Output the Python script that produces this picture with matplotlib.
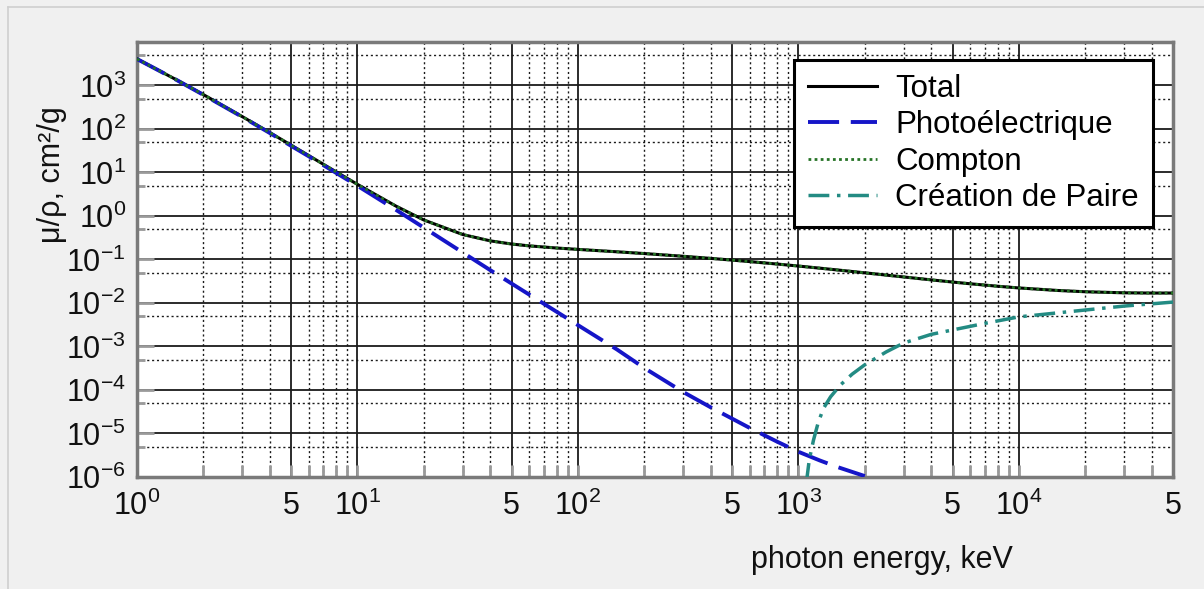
import numpy as np
import matplotlib
matplotlib.use("Agg")
import matplotlib.pyplot as plt
from matplotlib.ticker import FixedLocator, FixedFormatter, NullFormatter
from matplotlib.lines import Line2D

plt.rcParams['font.family'] = ['Liberation Sans', 'DejaVu Sans']
plt.rcParams['mathtext.fontset'] = 'custom'
plt.rcParams['mathtext.rm'] = 'Liberation Sans'
plt.rcParams['mathtext.it'] = 'Liberation Sans'
plt.rcParams['mathtext.default'] = 'regular'

# photon energy (keV) and mass attenuation (cm2/g)
energy_total = [1, 1.5, 2, 3, 4, 5, 6, 8, 10, 15, 20, 30, 40, 50, 60, 80, 100,
                150, 200, 300, 400, 500, 600, 800, 1000, 1250, 1500, 2000, 3000,
                4000, 5000, 6000, 8000, 10000, 15000, 20000, 30000, 40000, 50000]
total = [4078, 1376, 617.3, 192.9, 82.78, 42.58, 24.64, 10.37, 5.329, 1.673,
         0.8096, 0.3756, 0.2683, 0.2269, 0.2059, 0.1837, 0.1707, 0.1505, 0.137,
         0.1186, 0.1061, 0.09687, 0.08956, 0.07865, 0.07072, 0.06323, 0.05754,
         0.04942, 0.03969, 0.03403, 0.03031, 0.0277, 0.02429, 0.02219, 0.01941,
         0.01813, 0.01715, 0.01692, 0.01695]
compton = [4078, 1376, 617.3, 192.9, 82.78, 42.58, 24.64, 10.37, 5.329, 1.673,
           0.8096, 0.3756, 0.2683, 0.2269, 0.2059, 0.1837, 0.1707, 0.1505, 0.137,
           0.1186, 0.1061, 0.09687, 0.08956, 0.07865, 0.07072, 0.06323, 0.05754,
           0.04942, 0.03969, 0.03403, 0.03031, 0.0277, 0.02429, 0.02219, 0.01941,
           0.01813, 0.01715, 0.01692, 0.01695]

energy_photo = [1, 1.5, 2, 3, 4, 5, 6, 8, 10, 15, 20, 30, 40, 50, 60, 80, 100,
                150, 200, 300, 400, 500, 600, 800, 1000, 1250, 1500, 2000]
photo = [4070, 1370, 610, 190, 81, 41, 23.7, 9.8, 4.94, 1.37, 0.54, 0.145, 0.057,
         0.028, 0.0157, 0.0063, 0.0031, 8.6e-4, 3.2e-4, 9e-5, 4e-5, 2.2e-5,
         1.35e-5, 6.5e-6, 3.8e-6, 2.4e-6, 1.7e-6, 1.05e-6]

energy_pair = [1085, 1120, 1170, 1230, 1300, 1400, 1550, 1750, 2000, 2500, 3000,
               4000, 5000, 7000, 10000, 20000, 30000, 50000]
pair = [7e-7, 2.5e-6, 7e-6, 1.8e-5, 3.8e-5, 7e-5, 1.3e-4, 2.3e-4, 3.8e-4, 7.5e-4,
        1.2e-3, 1.9e-3, 2.4e-3, 3.4e-3, 4.8e-3, 6.9e-3, 8.5e-3, 1.05e-2]

x_major = [1, 5, 10, 50, 100, 500, 1000, 5000, 10000, 50000]
x_labels = ['$10^{0}$', '5', '$10^{1}$', '5', '$10^{2}$', '5', '$10^{3}$', '5', '$10^{4}$', '5']
y_major = [1e-6, 1e-5, 1e-4, 1e-3, 1e-2, 1e-1, 1, 10, 100, 1000]
y_labels = ['$10^{-6}$', '$10^{-5}$', '$10^{-4}$', '$10^{-3}$', '$10^{-2}$',
            '$10^{-1}$', '$10^{0}$', '$10^{1}$', '$10^{2}$', '$10^{3}$']

fig = plt.figure(figsize=(12.04, 5.89), dpi=100, facecolor='#f0f0f0')
ax = fig.add_axes([137/1204, 1-477/589, 1036/1204, 435/589])
ax.set_facecolor('white')

ax.plot(energy_total, total, '-', color='black', lw=2.2, label='Total', zorder=3)
ax.plot(energy_photo, photo, color='#1515c8', lw=2.8, ls=(0, (8, 3)), label='Photoélectrique', zorder=4)
ax.plot(energy_total, compton, color='#267326', lw=2.0, ls=(0, (1, 1.2)), label='Compton', zorder=5)
ax.plot(energy_pair, pair, color='#238b83', lw=2.5, ls=(0, (6, 2.2, 1, 2.2)), label='Création de Paire', zorder=4)

ax.set_xscale('log')
ax.set_yscale('log')
ax.set_xlim(1, 5e4)
ax.set_ylim(1e-6, 1e4)

x_minor = [m * 10**d for d in range(0, 5) for m in (2, 3, 4, 6, 7, 8, 9) if m * 10**d < 5e4]
y_minor = [5 * 10.0**d for d in range(-6, 4)]
ax.xaxis.set_major_locator(FixedLocator(x_major))
ax.xaxis.set_major_formatter(FixedFormatter(x_labels))
ax.xaxis.set_minor_locator(FixedLocator(x_minor))
ax.xaxis.set_minor_formatter(NullFormatter())
ax.yaxis.set_major_locator(FixedLocator(y_major))
ax.yaxis.set_major_formatter(FixedFormatter(y_labels))
ax.yaxis.set_minor_locator(FixedLocator(y_minor))
ax.yaxis.set_minor_formatter(NullFormatter())

ax.grid(True, which='major', color='#1a1a1a', lw=1.3, ls='-')
ax.grid(True, which='minor', color='#1a1a1a', lw=1.0, ls=(0, (1.5, 2)))
ax.set_axisbelow(True)

ax.tick_params(which='both', direction='in', color='#9a9a9a', width=2,
               labelsize=22, labelcolor='#111111', top=False, right=False)
ax.tick_params(axis='x', which='both', length=9, pad=10)
ax.tick_params(axis='y', which='major', length=12, pad=8)
ax.tick_params(axis='y', which='minor', length=6)

for s in ax.spines.values():
    s.set_color('#7a7a7a')
    s.set_linewidth(2.5)

leg = ax.legend(loc='upper right', bbox_to_anchor=(1 - 20/1036, 1 - 18/435),
                fontsize=22.5, frameon=True, fancybox=False, framealpha=1,
                edgecolor='black', handlelength=2.2, handletextpad=0.6,
                labelspacing=0.2, borderpad=0.45, borderaxespad=0)
leg.get_frame().set_linewidth(2.2)
leg.set_zorder(10)

fig.text(882/1204, 1-560/589, 'photon energy, keV', fontsize=22, ha='center', va='center', color='#111111')
fig.text(52/1204, 1-175/589, 'μ/ρ, cm²/g', fontsize=22, ha='center', va='center', rotation=90, color='#111111')

# light frame along top and left edge
fig.add_artist(Line2D([8/1204, 8/1204], [0, 1-7/589], transform=fig.transFigure, color='#cfcfcf', lw=1.2))
fig.add_artist(Line2D([8/1204, 1], [1-7/589, 1-7/589], transform=fig.transFigure, color='#cfcfcf', lw=1.2))

fig.savefig('out.png', dpi=100, facecolor=fig.get_facecolor())
